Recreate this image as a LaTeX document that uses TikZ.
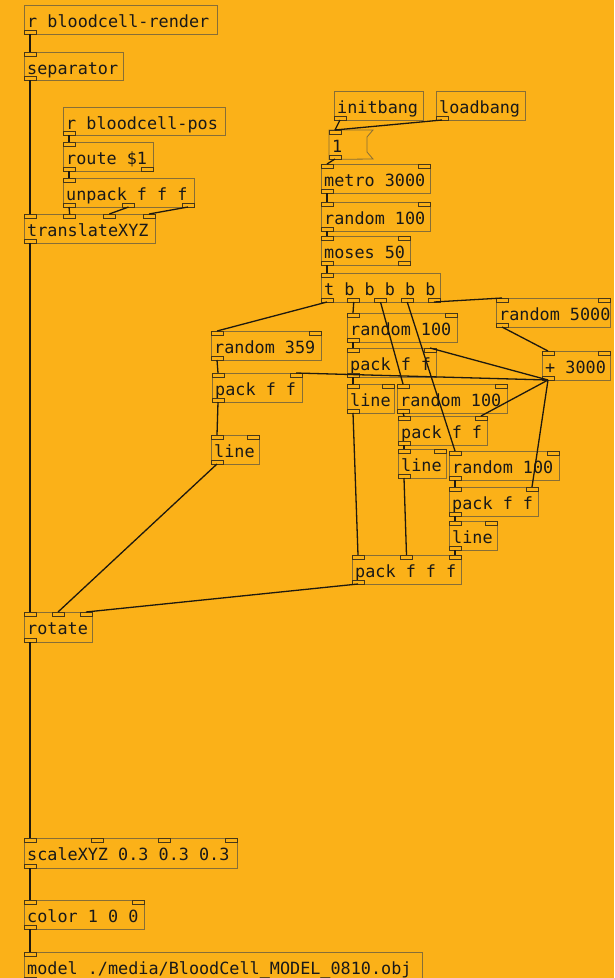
\documentclass[tikz,border=0pt]{standalone}
\usepackage{fontspec}
\setmonofont{DejaVu Sans Mono}
\definecolor{pdbg}{RGB}{251,177,24}
\definecolor{pdborder}{RGB}{135,110,55}
\definecolor{pdport}{RGB}{70,55,25}
\definecolor{pdwire}{RGB}{30,25,15}
\tikzset{
  pdbox/.style={draw=pdborder, line width=0.8pt, inner sep=0pt, outer sep=0pt},
  pdtext/.style={inner sep=0pt, font=\fontsize{16.8}{20}\selectfont\ttfamily, text=black!90},
  pdportbox/.style={draw=pdport, fill=pdbg, line width=0.8pt},
  wire/.style={draw=pdwire, line width=1.3pt}
}
% ports: name, x0, y, w, n, in/out
\newcommand\pdports[6]{%
  \ifnum#5>0
    \pgfmathtruncatemacro\pdlast{#5-1}%
    \foreach \k in {0,...,\pdlast}{%
      \ifnum#5=1 \pgfmathsetmacro\px{#2}\else\pgfmathsetmacro\px{#2+\k*(#4-12)/(#5-1)}\fi
      \def\pdkind{#6}\def\pdin{in}%
      \ifx\pdkind\pdin
        \draw[pdportbox] (\px,#3) rectangle ({\px+12},{#3+4});
        \coordinate (#1-i\k) at ({\px+6},#3);
      \else
        \draw[pdportbox] (\px,{#3-4}) rectangle ({\px+12},#3);
        \coordinate (#1-o\k) at ({\px+6},#3);
      \fi
    }%
  \fi
}
% object: name, x0, y0, x1, y1, text, nin, nout
\newcommand\pdobj[8]{%
  \pgfmathsetmacro\pdw{#4-#2}%
  \pgfmathsetmacro\pdh{#5-#3}%
  \node[pdbox, minimum width=\pdw pt, minimum height=\pdh pt, anchor=north west] (#1) at (#2,#3) {};
  \node[pdtext, anchor=base west] (#1-t) at ({#2+3},{#3+22}) {#6};
  \pdports{#1}{#2}{#3}{\pdw}{#7}{in}%
  \pgfmathsetmacro\pdw{#4-#2}%
  \pdports{#1}{#2}{#5}{\pdw}{#8}{out}%
}
\begin{document}
\begin{tikzpicture}[x=1pt, y=-1pt]
\fill[pdbg] (0,0) rectangle (614,978);
\useasboundingbox (0,0) rectangle (614,978);

\pdobj{rrender}{24}{5}{217}{34}{r bloodcell-render}{0}{1}
\pdobj{sep}{24}{52}{123}{80}{separator}{1}{1}
\pdobj{rpos}{63}{107}{225}{135}{r bloodcell-pos}{0}{1}
\pdobj{route}{63}{142}{153}{171}{route \$1}{1}{2}
\pdobj{unpack}{63}{178}{194}{207}{unpack f f f}{1}{3}
\pdobj{trans}{24}{214}{155}{243}{translateXYZ}{4}{1}
\pdobj{initb}{334}{91}{423}{120}{initbang}{0}{1}
\pdobj{loadb}{436}{91}{525}{120}{loadbang}{0}{1}

% message box "1"
\node[inner sep=0pt, minimum width=44pt, minimum height=29pt, anchor=north west] (msg) at (329,130) {};
\draw[draw=pdborder, line width=0.8pt] (msg.north west) -- (373,130) -- (367,137) -- (367,152) -- (373,159) -- (msg.south west) -- cycle;
\node[pdtext, anchor=base west] (msg-t) at (332,152) {1};
\pdports{msg}{329}{130}{44}{1}{in}
\pdports{msg}{329}{159}{44}{1}{out}

\pdobj{metro}{321}{164}{430}{193}{metro 3000}{2}{1}
\pdobj{rnd1}{321}{202}{430}{231}{random 100}{2}{1}
\pdobj{moses}{321}{236}{410}{265}{moses 50}{2}{2}
\pdobj{trig}{321}{273}{440}{302}{t b b b b b}{1}{5}
\pdobj{rndk}{496}{298}{610}{327}{random 5000}{2}{1}
\pdobj{rnd2}{347}{313}{457}{342}{random 100}{2}{1}
\pdobj{rnds}{211}{331}{321}{360}{random 359}{2}{1}
\pdobj{packb}{347}{348}{436}{377}{pack f f}{2}{1}
\pdobj{plus}{542}{351}{610}{380}{+ 3000}{2}{1}
\pdobj{packa}{212}{373}{302}{402}{pack f f}{2}{1}
\pdobj{lineb}{347}{384}{394}{413}{line}{2}{1}
\pdobj{rnd3}{397}{384}{507}{413}{random 100}{2}{1}
\pdobj{packc}{398}{416}{487}{445}{pack f f}{2}{1}
\pdobj{linec}{398}{449}{446}{478}{line}{2}{1}
\pdobj{rnd4}{449}{451}{559}{480}{random 100}{2}{1}
\pdobj{packd}{449}{487}{538}{516}{pack f f}{2}{1}
\pdobj{lined}{449}{521}{497}{550}{line}{2}{1}
\pdobj{linea}{211}{435}{259}{464}{line}{2}{1}
\pdobj{packf}{352}{555}{461}{584}{pack f f f}{3}{1}
\pdobj{rotate}{24}{612}{92}{642}{rotate}{3}{1}
\pdobj{scale}{24}{838}{237}{868}{scaleXYZ 0.3 0.3 0.3}{4}{1}
\pdobj{color}{24}{900}{144}{929}{color 1 0 0}{2}{1}
\pdobj{model}{24}{952}{422}{981}{model ./media/BloodCell\_MODEL\_0810.obj}{1}{1}

% connections
\draw[wire] (rrender-o0) -- (sep-i0);
\draw[wire] (sep-o0) -- (trans-i0);
\draw[wire] (rpos-o0) -- (route-i0);
\draw[wire] (route-o0) -- (unpack-i0);
\draw[wire] (unpack-o0) -- (trans-i1);
\draw[wire] (unpack-o1) -- (trans-i2);
\draw[wire] (unpack-o2) -- (trans-i3);
\draw[wire] (trans-o0) -- (rotate-i0);
\draw[wire] (initb-o0) -- (msg-i0);
\draw[wire] (loadb-o0) -- (msg-i0);
\draw[wire] (msg-o0) -- (metro-i0);
\draw[wire] (metro-o0) -- (rnd1-i0);
\draw[wire] (rnd1-o0) -- (moses-i0);
\draw[wire] (moses-o0) -- (trig-i0);
\draw[wire] (trig-o0) -- (rnds-i0);
\draw[wire] (trig-o1) -- (rnd2-i0);
\draw[wire] (trig-o2) -- (rnd3-i0);
\draw[wire] (trig-o3) -- (rnd4-i0);
\draw[wire] (trig-o4) -- (rndk-i0);
\draw[wire] (rndk-o0) -- (plus-i0);
\draw[wire] (plus-o0) -- (packb-i1);
\draw[wire] (plus-o0) -- (packa-i1);
\draw[wire] (plus-o0) -- (packc-i1);
\draw[wire] (plus-o0) -- (packd-i1);
\draw[wire] (rnd2-o0) -- (packb-i0);
\draw[wire] (packb-o0) -- (lineb-i0);
\draw[wire] (lineb-o0) -- (packf-i0);
\draw[wire] (rnd3-o0) -- (packc-i0);
\draw[wire] (packc-o0) -- (linec-i0);
\draw[wire] (linec-o0) -- (packf-i1);
\draw[wire] (rnd4-o0) -- (packd-i0);
\draw[wire] (packd-o0) -- (lined-i0);
\draw[wire] (lined-o0) -- (packf-i2);
\draw[wire] (rnds-o0) -- (packa-i0);
\draw[wire] (packa-o0) -- (linea-i0);
\draw[wire] (linea-o0) -- (rotate-i1);
\draw[wire] (packf-o0) -- (rotate-i2);
\draw[wire] (rotate-o0) -- (scale-i0);
\draw[wire] (scale-o0) -- (color-i0);
\draw[wire] (color-o0) -- (model-i0);
\end{tikzpicture}
\end{document}
